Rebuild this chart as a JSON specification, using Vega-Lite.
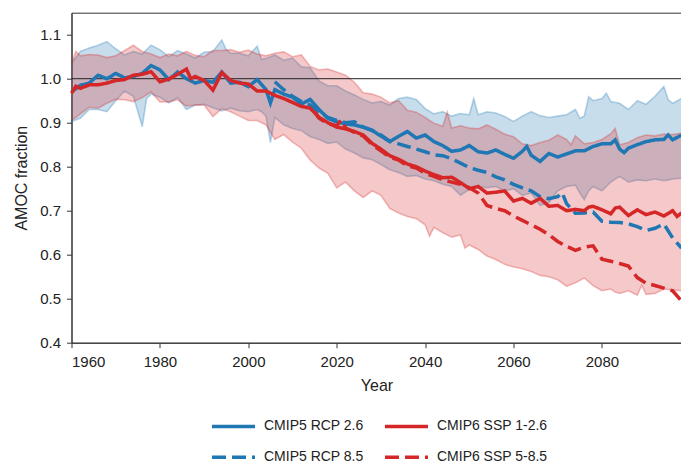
{
  "$schema": "https://vega.github.io/schema/vega-lite/v6.json",
  "width": 610,
  "height": 330,
  "autosize": {"type": "none"},
  "padding": {"left": 71.5, "top": 12.7, "right": 0, "bottom": 122},
  "config": {
    "font": "Liberation Sans",
    "view": {"stroke": "#333", "strokeWidth": 1},
    "axis": {
      "grid": false,
      "domainColor": "#333",
      "tickColor": "#333",
      "tickSize": 5,
      "labelFontSize": 15,
      "labelColor": "#222",
      "titleFontSize": 16,
      "titleFontWeight": "normal",
      "titleColor": "#222"
    },
    "legend": {
      "orient": "none",
      "legendX": 138.5,
      "legendY": 390,
      "columns": 2,
      "padding": 0,
      "symbolType": "stroke",
      "symbolSize": 1849,
      "symbolStrokeWidth": 3.5,
      "labelFontSize": 14,
      "labelColor": "#222",
      "labelOffset": 7,
      "rowPadding": -17,
      "columnPadding": 14,
      "title": null
    }
  },
  "datasets": {
    "blue": [
      {"year":1960,"lo":0.903,"hi":1.035},{"year":1962,"lo":0.910,"hi":1.062},{"year":1964,"lo":0.930,"hi":1.070},{"year":1966,"lo":0.930,"hi":1.076},{"year":1968,"lo":0.925,"hi":1.084},{"year":1970,"lo":0.950,"hi":1.068},{"year":1972,"lo":0.972,"hi":1.054},{"year":1974,"lo":0.960,"hi":1.062},{"year":1976,"lo":0.891,"hi":1.056},{"year":1977,"lo":0.955,"hi":1.066},{"year":1978,"lo":0.965,"hi":1.076},{"year":1980,"lo":0.958,"hi":1.066},{"year":1982,"lo":0.945,"hi":1.050},{"year":1984,"lo":0.957,"hi":1.064},{"year":1986,"lo":0.930,"hi":1.056},{"year":1988,"lo":0.940,"hi":1.047},{"year":1990,"lo":0.942,"hi":1.060},{"year":1992,"lo":0.934,"hi":1.062},{"year":1994,"lo":0.927,"hi":1.088},{"year":1995,"lo":0.930,"hi":1.066},{"year":1996,"lo":0.933,"hi":1.058},{"year":1998,"lo":0.927,"hi":1.058},{"year":2000,"lo":0.925,"hi":1.052},{"year":2002,"lo":0.930,"hi":1.074},{"year":2003,"lo":0.925,"hi":1.044},{"year":2004,"lo":0.915,"hi":1.046},{"year":2005,"lo":0.855,"hi":1.050},{"year":2006,"lo":0.912,"hi":1.054},{"year":2008,"lo":0.895,"hi":1.042},{"year":2010,"lo":0.887,"hi":1.047},{"year":2012,"lo":0.882,"hi":1.027},{"year":2014,"lo":0.868,"hi":1.025},{"year":2016,"lo":0.862,"hi":0.995},{"year":2018,"lo":0.853,"hi":0.984},{"year":2020,"lo":0.856,"hi":0.984},{"year":2022,"lo":0.840,"hi":0.972},{"year":2024,"lo":0.831,"hi":0.963},{"year":2026,"lo":0.820,"hi":0.953},{"year":2028,"lo":0.816,"hi":0.945},{"year":2030,"lo":0.805,"hi":0.948},{"year":2032,"lo":0.793,"hi":0.940},{"year":2034,"lo":0.787,"hi":0.955},{"year":2036,"lo":0.778,"hi":0.958},{"year":2038,"lo":0.780,"hi":0.953},{"year":2040,"lo":0.772,"hi":0.932},{"year":2042,"lo":0.768,"hi":0.920},{"year":2044,"lo":0.760,"hi":0.925},{"year":2046,"lo":0.755,"hi":0.915},{"year":2048,"lo":0.735,"hi":0.921},{"year":2050,"lo":0.748,"hi":0.918},{"year":2051,"lo":0.752,"hi":0.955},{"year":2052,"lo":0.755,"hi":0.918},{"year":2054,"lo":0.752,"hi":0.925},{"year":2056,"lo":0.755,"hi":0.922},{"year":2058,"lo":0.745,"hi":0.914},{"year":2060,"lo":0.750,"hi":0.903},{"year":2062,"lo":0.735,"hi":0.915},{"year":2064,"lo":0.740,"hi":0.925},{"year":2066,"lo":0.712,"hi":0.916},{"year":2068,"lo":0.718,"hi":0.912},{"year":2070,"lo":0.745,"hi":0.915},{"year":2072,"lo":0.755,"hi":0.918},{"year":2074,"lo":0.758,"hi":0.930},{"year":2075,"lo":0.740,"hi":0.910},{"year":2076,"lo":0.725,"hi":0.915},{"year":2077,"lo":0.745,"hi":0.959},{"year":2078,"lo":0.755,"hi":0.950},{"year":2080,"lo":0.745,"hi":0.955},{"year":2081,"lo":0.755,"hi":0.967},{"year":2082,"lo":0.765,"hi":0.948},{"year":2084,"lo":0.778,"hi":0.944},{"year":2086,"lo":0.765,"hi":0.930},{"year":2088,"lo":0.770,"hi":0.950},{"year":2090,"lo":0.768,"hi":0.942},{"year":2092,"lo":0.772,"hi":0.960},{"year":2094,"lo":0.768,"hi":0.982},{"year":2095,"lo":0.770,"hi":0.952},{"year":2096,"lo":0.772,"hi":0.944},{"year":2098,"lo":0.774,"hi":0.955}
    ],
    "red": [
      {"year":1960,"lo":0.906,"hi":1.035},{"year":1961,"lo":0.912,"hi":1.062},{"year":1962,"lo":0.920,"hi":1.052},{"year":1964,"lo":0.935,"hi":1.055},{"year":1966,"lo":0.933,"hi":1.054},{"year":1968,"lo":0.944,"hi":1.048},{"year":1970,"lo":0.953,"hi":1.052},{"year":1972,"lo":0.952,"hi":1.064},{"year":1974,"lo":0.948,"hi":1.076},{"year":1976,"lo":0.957,"hi":1.062},{"year":1978,"lo":0.970,"hi":1.056},{"year":1980,"lo":0.947,"hi":1.048},{"year":1982,"lo":0.947,"hi":1.056},{"year":1984,"lo":0.952,"hi":1.052},{"year":1986,"lo":0.938,"hi":1.062},{"year":1988,"lo":0.940,"hi":1.053},{"year":1990,"lo":0.940,"hi":1.050},{"year":1992,"lo":0.914,"hi":1.064},{"year":1994,"lo":0.932,"hi":1.064},{"year":1996,"lo":0.925,"hi":1.066},{"year":1998,"lo":0.915,"hi":1.060},{"year":2000,"lo":0.905,"hi":1.065},{"year":2002,"lo":0.905,"hi":1.056},{"year":2004,"lo":0.895,"hi":1.052},{"year":2006,"lo":0.862,"hi":1.058},{"year":2008,"lo":0.873,"hi":1.061},{"year":2010,"lo":0.856,"hi":1.050},{"year":2012,"lo":0.842,"hi":1.054},{"year":2014,"lo":0.815,"hi":1.028},{"year":2016,"lo":0.797,"hi":1.020},{"year":2018,"lo":0.785,"hi":1.022},{"year":2020,"lo":0.752,"hi":1.015},{"year":2022,"lo":0.765,"hi":1.008},{"year":2024,"lo":0.745,"hi":0.992},{"year":2026,"lo":0.730,"hi":0.968},{"year":2028,"lo":0.745,"hi":0.965},{"year":2030,"lo":0.735,"hi":0.958},{"year":2032,"lo":0.705,"hi":0.945},{"year":2034,"lo":0.695,"hi":0.950},{"year":2036,"lo":0.687,"hi":0.928},{"year":2038,"lo":0.682,"hi":0.924},{"year":2040,"lo":0.668,"hi":0.912},{"year":2041,"lo":0.642,"hi":0.905},{"year":2042,"lo":0.662,"hi":0.899},{"year":2044,"lo":0.650,"hi":0.892},{"year":2045,"lo":0.645,"hi":0.924},{"year":2046,"lo":0.640,"hi":0.888},{"year":2048,"lo":0.645,"hi":0.893},{"year":2049,"lo":0.615,"hi":0.890},{"year":2050,"lo":0.622,"hi":0.888},{"year":2052,"lo":0.612,"hi":0.886},{"year":2054,"lo":0.597,"hi":0.895},{"year":2056,"lo":0.589,"hi":0.885},{"year":2058,"lo":0.578,"hi":0.874},{"year":2060,"lo":0.572,"hi":0.868},{"year":2062,"lo":0.568,"hi":0.852},{"year":2064,"lo":0.562,"hi":0.848},{"year":2066,"lo":0.553,"hi":0.855},{"year":2068,"lo":0.550,"hi":0.860},{"year":2070,"lo":0.543,"hi":0.872},{"year":2072,"lo":0.528,"hi":0.862},{"year":2073,"lo":0.532,"hi":0.850},{"year":2074,"lo":0.536,"hi":0.870},{"year":2076,"lo":0.547,"hi":0.852},{"year":2078,"lo":0.530,"hi":0.855},{"year":2080,"lo":0.518,"hi":0.862},{"year":2082,"lo":0.522,"hi":0.875},{"year":2083,"lo":0.515,"hi":0.887},{"year":2084,"lo":0.512,"hi":0.850},{"year":2086,"lo":0.518,"hi":0.855},{"year":2088,"lo":0.508,"hi":0.866},{"year":2089,"lo":0.530,"hi":0.869},{"year":2090,"lo":0.510,"hi":0.872},{"year":2092,"lo":0.512,"hi":0.870},{"year":2094,"lo":0.522,"hi":0.874},{"year":2096,"lo":0.520,"hi":0.873},{"year":2098,"lo":0.518,"hi":0.876}
    ],
    "means": [
      {"s":"CMIP5 RCP 2.6","year":1960,"v":0.970},{"s":"CMIP5 RCP 2.6","year":1962,"v":0.985},{"s":"CMIP5 RCP 2.6","year":1964,"v":0.990},{"s":"CMIP5 RCP 2.6","year":1966,"v":1.008},{"s":"CMIP5 RCP 2.6","year":1968,"v":1.000},{"s":"CMIP5 RCP 2.6","year":1970,"v":1.012},{"s":"CMIP5 RCP 2.6","year":1972,"v":1.002},{"s":"CMIP5 RCP 2.6","year":1974,"v":1.005},{"s":"CMIP5 RCP 2.6","year":1976,"v":1.012},{"s":"CMIP5 RCP 2.6","year":1978,"v":1.030},{"s":"CMIP5 RCP 2.6","year":1980,"v":1.020},{"s":"CMIP5 RCP 2.6","year":1982,"v":0.998},{"s":"CMIP5 RCP 2.6","year":1984,"v":1.015},{"s":"CMIP5 RCP 2.6","year":1986,"v":1.000},{"s":"CMIP5 RCP 2.6","year":1988,"v":0.990},{"s":"CMIP5 RCP 2.6","year":1990,"v":0.996},{"s":"CMIP5 RCP 2.6","year":1992,"v":0.992},{"s":"CMIP5 RCP 2.6","year":1994,"v":1.015},{"s":"CMIP5 RCP 2.6","year":1996,"v":0.990},{"s":"CMIP5 RCP 2.6","year":1998,"v":0.992},{"s":"CMIP5 RCP 2.6","year":2000,"v":0.982},{"s":"CMIP5 RCP 2.6","year":2002,"v":0.998},{"s":"CMIP5 RCP 2.6","year":2004,"v":0.975},{"s":"CMIP5 RCP 2.6","year":2005,"v":0.945},{"s":"CMIP5 RCP 2.6","year":2006,"v":0.975},{"s":"CMIP5 RCP 2.6","year":2008,"v":0.965},{"s":"CMIP5 RCP 2.6","year":2010,"v":0.958},{"s":"CMIP5 RCP 2.6","year":2012,"v":0.942},{"s":"CMIP5 RCP 2.6","year":2014,"v":0.953},{"s":"CMIP5 RCP 2.6","year":2016,"v":0.930},{"s":"CMIP5 RCP 2.6","year":2018,"v":0.910},{"s":"CMIP5 RCP 2.6","year":2020,"v":0.902},{"s":"CMIP5 RCP 2.6","year":2022,"v":0.897},{"s":"CMIP5 RCP 2.6","year":2024,"v":0.895},{"s":"CMIP5 RCP 2.6","year":2026,"v":0.890},{"s":"CMIP5 RCP 2.6","year":2028,"v":0.882},{"s":"CMIP5 RCP 2.6","year":2030,"v":0.870},{"s":"CMIP5 RCP 2.6","year":2032,"v":0.857},{"s":"CMIP5 RCP 2.6","year":2034,"v":0.869},{"s":"CMIP5 RCP 2.6","year":2036,"v":0.880},{"s":"CMIP5 RCP 2.6","year":2038,"v":0.865},{"s":"CMIP5 RCP 2.6","year":2040,"v":0.872},{"s":"CMIP5 RCP 2.6","year":2042,"v":0.857},{"s":"CMIP5 RCP 2.6","year":2044,"v":0.848},{"s":"CMIP5 RCP 2.6","year":2046,"v":0.835},{"s":"CMIP5 RCP 2.6","year":2048,"v":0.838},{"s":"CMIP5 RCP 2.6","year":2050,"v":0.848},{"s":"CMIP5 RCP 2.6","year":2052,"v":0.834},{"s":"CMIP5 RCP 2.6","year":2054,"v":0.831},{"s":"CMIP5 RCP 2.6","year":2056,"v":0.838},{"s":"CMIP5 RCP 2.6","year":2058,"v":0.828},{"s":"CMIP5 RCP 2.6","year":2060,"v":0.819},{"s":"CMIP5 RCP 2.6","year":2062,"v":0.835},{"s":"CMIP5 RCP 2.6","year":2063,"v":0.846},{"s":"CMIP5 RCP 2.6","year":2064,"v":0.826},{"s":"CMIP5 RCP 2.6","year":2066,"v":0.812},{"s":"CMIP5 RCP 2.6","year":2068,"v":0.830},{"s":"CMIP5 RCP 2.6","year":2070,"v":0.822},{"s":"CMIP5 RCP 2.6","year":2072,"v":0.829},{"s":"CMIP5 RCP 2.6","year":2074,"v":0.836},{"s":"CMIP5 RCP 2.6","year":2076,"v":0.836},{"s":"CMIP5 RCP 2.6","year":2078,"v":0.846},{"s":"CMIP5 RCP 2.6","year":2080,"v":0.852},{"s":"CMIP5 RCP 2.6","year":2082,"v":0.852},{"s":"CMIP5 RCP 2.6","year":2083,"v":0.861},{"s":"CMIP5 RCP 2.6","year":2084,"v":0.840},{"s":"CMIP5 RCP 2.6","year":2085,"v":0.832},{"s":"CMIP5 RCP 2.6","year":2086,"v":0.842},{"s":"CMIP5 RCP 2.6","year":2088,"v":0.850},{"s":"CMIP5 RCP 2.6","year":2090,"v":0.857},{"s":"CMIP5 RCP 2.6","year":2092,"v":0.861},{"s":"CMIP5 RCP 2.6","year":2094,"v":0.862},{"s":"CMIP5 RCP 2.6","year":2095,"v":0.872},{"s":"CMIP5 RCP 2.6","year":2096,"v":0.861},{"s":"CMIP5 RCP 2.6","year":2098,"v":0.872},
      {"s":"CMIP5 RCP 8.5","year":2006,"v":0.993},{"s":"CMIP5 RCP 8.5","year":2008,"v":0.975},{"s":"CMIP5 RCP 8.5","year":2010,"v":0.960},{"s":"CMIP5 RCP 8.5","year":2012,"v":0.948},{"s":"CMIP5 RCP 8.5","year":2014,"v":0.940},{"s":"CMIP5 RCP 8.5","year":2016,"v":0.925},{"s":"CMIP5 RCP 8.5","year":2018,"v":0.912},{"s":"CMIP5 RCP 8.5","year":2020,"v":0.905},{"s":"CMIP5 RCP 8.5","year":2022,"v":0.900},{"s":"CMIP5 RCP 8.5","year":2024,"v":0.902},{"s":"CMIP5 RCP 8.5","year":2026,"v":0.890},{"s":"CMIP5 RCP 8.5","year":2028,"v":0.883},{"s":"CMIP5 RCP 8.5","year":2030,"v":0.872},{"s":"CMIP5 RCP 8.5","year":2032,"v":0.858},{"s":"CMIP5 RCP 8.5","year":2034,"v":0.852},{"s":"CMIP5 RCP 8.5","year":2036,"v":0.846},{"s":"CMIP5 RCP 8.5","year":2038,"v":0.840},{"s":"CMIP5 RCP 8.5","year":2040,"v":0.834},{"s":"CMIP5 RCP 8.5","year":2042,"v":0.827},{"s":"CMIP5 RCP 8.5","year":2044,"v":0.825},{"s":"CMIP5 RCP 8.5","year":2046,"v":0.818},{"s":"CMIP5 RCP 8.5","year":2048,"v":0.808},{"s":"CMIP5 RCP 8.5","year":2050,"v":0.798},{"s":"CMIP5 RCP 8.5","year":2052,"v":0.792},{"s":"CMIP5 RCP 8.5","year":2054,"v":0.787},{"s":"CMIP5 RCP 8.5","year":2056,"v":0.777},{"s":"CMIP5 RCP 8.5","year":2058,"v":0.770},{"s":"CMIP5 RCP 8.5","year":2060,"v":0.760},{"s":"CMIP5 RCP 8.5","year":2062,"v":0.752},{"s":"CMIP5 RCP 8.5","year":2064,"v":0.745},{"s":"CMIP5 RCP 8.5","year":2066,"v":0.732},{"s":"CMIP5 RCP 8.5","year":2068,"v":0.727},{"s":"CMIP5 RCP 8.5","year":2070,"v":0.732},{"s":"CMIP5 RCP 8.5","year":2071,"v":0.741},{"s":"CMIP5 RCP 8.5","year":2072,"v":0.716},{"s":"CMIP5 RCP 8.5","year":2074,"v":0.694},{"s":"CMIP5 RCP 8.5","year":2076,"v":0.695},{"s":"CMIP5 RCP 8.5","year":2078,"v":0.697},{"s":"CMIP5 RCP 8.5","year":2080,"v":0.676},{"s":"CMIP5 RCP 8.5","year":2082,"v":0.674},{"s":"CMIP5 RCP 8.5","year":2084,"v":0.673},{"s":"CMIP5 RCP 8.5","year":2086,"v":0.670},{"s":"CMIP5 RCP 8.5","year":2088,"v":0.664},{"s":"CMIP5 RCP 8.5","year":2090,"v":0.655},{"s":"CMIP5 RCP 8.5","year":2092,"v":0.660},{"s":"CMIP5 RCP 8.5","year":2094,"v":0.670},{"s":"CMIP5 RCP 8.5","year":2096,"v":0.638},{"s":"CMIP5 RCP 8.5","year":2098,"v":0.615},
      {"s":"CMIP6 SSP 1-2.6","year":1960,"v":0.967},{"s":"CMIP6 SSP 1-2.6","year":1961,"v":0.983},{"s":"CMIP6 SSP 1-2.6","year":1962,"v":0.978},{"s":"CMIP6 SSP 1-2.6","year":1964,"v":0.986},{"s":"CMIP6 SSP 1-2.6","year":1966,"v":0.986},{"s":"CMIP6 SSP 1-2.6","year":1968,"v":0.990},{"s":"CMIP6 SSP 1-2.6","year":1970,"v":0.996},{"s":"CMIP6 SSP 1-2.6","year":1972,"v":0.998},{"s":"CMIP6 SSP 1-2.6","year":1974,"v":1.008},{"s":"CMIP6 SSP 1-2.6","year":1976,"v":1.010},{"s":"CMIP6 SSP 1-2.6","year":1978,"v":1.016},{"s":"CMIP6 SSP 1-2.6","year":1980,"v":0.993},{"s":"CMIP6 SSP 1-2.6","year":1982,"v":0.999},{"s":"CMIP6 SSP 1-2.6","year":1984,"v":1.010},{"s":"CMIP6 SSP 1-2.6","year":1986,"v":1.022},{"s":"CMIP6 SSP 1-2.6","year":1987,"v":1.000},{"s":"CMIP6 SSP 1-2.6","year":1988,"v":1.005},{"s":"CMIP6 SSP 1-2.6","year":1990,"v":0.996},{"s":"CMIP6 SSP 1-2.6","year":1992,"v":0.974},{"s":"CMIP6 SSP 1-2.6","year":1994,"v":1.014},{"s":"CMIP6 SSP 1-2.6","year":1996,"v":0.996},{"s":"CMIP6 SSP 1-2.6","year":1998,"v":0.990},{"s":"CMIP6 SSP 1-2.6","year":2000,"v":0.988},{"s":"CMIP6 SSP 1-2.6","year":2002,"v":0.972},{"s":"CMIP6 SSP 1-2.6","year":2004,"v":0.972},{"s":"CMIP6 SSP 1-2.6","year":2006,"v":0.962},{"s":"CMIP6 SSP 1-2.6","year":2008,"v":0.955},{"s":"CMIP6 SSP 1-2.6","year":2010,"v":0.946},{"s":"CMIP6 SSP 1-2.6","year":2012,"v":0.937},{"s":"CMIP6 SSP 1-2.6","year":2014,"v":0.933},{"s":"CMIP6 SSP 1-2.6","year":2016,"v":0.912},{"s":"CMIP6 SSP 1-2.6","year":2018,"v":0.900},{"s":"CMIP6 SSP 1-2.6","year":2020,"v":0.890},{"s":"CMIP6 SSP 1-2.6","year":2022,"v":0.886},{"s":"CMIP6 SSP 1-2.6","year":2024,"v":0.880},{"s":"CMIP6 SSP 1-2.6","year":2026,"v":0.872},{"s":"CMIP6 SSP 1-2.6","year":2028,"v":0.853},{"s":"CMIP6 SSP 1-2.6","year":2030,"v":0.840},{"s":"CMIP6 SSP 1-2.6","year":2032,"v":0.825},{"s":"CMIP6 SSP 1-2.6","year":2034,"v":0.817},{"s":"CMIP6 SSP 1-2.6","year":2036,"v":0.806},{"s":"CMIP6 SSP 1-2.6","year":2038,"v":0.800},{"s":"CMIP6 SSP 1-2.6","year":2040,"v":0.790},{"s":"CMIP6 SSP 1-2.6","year":2042,"v":0.782},{"s":"CMIP6 SSP 1-2.6","year":2044,"v":0.775},{"s":"CMIP6 SSP 1-2.6","year":2046,"v":0.776},{"s":"CMIP6 SSP 1-2.6","year":2048,"v":0.764},{"s":"CMIP6 SSP 1-2.6","year":2050,"v":0.750},{"s":"CMIP6 SSP 1-2.6","year":2052,"v":0.755},{"s":"CMIP6 SSP 1-2.6","year":2054,"v":0.740},{"s":"CMIP6 SSP 1-2.6","year":2056,"v":0.742},{"s":"CMIP6 SSP 1-2.6","year":2058,"v":0.745},{"s":"CMIP6 SSP 1-2.6","year":2060,"v":0.722},{"s":"CMIP6 SSP 1-2.6","year":2062,"v":0.728},{"s":"CMIP6 SSP 1-2.6","year":2064,"v":0.717},{"s":"CMIP6 SSP 1-2.6","year":2066,"v":0.728},{"s":"CMIP6 SSP 1-2.6","year":2068,"v":0.710},{"s":"CMIP6 SSP 1-2.6","year":2070,"v":0.712},{"s":"CMIP6 SSP 1-2.6","year":2072,"v":0.700},{"s":"CMIP6 SSP 1-2.6","year":2074,"v":0.703},{"s":"CMIP6 SSP 1-2.6","year":2076,"v":0.700},{"s":"CMIP6 SSP 1-2.6","year":2077,"v":0.708},{"s":"CMIP6 SSP 1-2.6","year":2078,"v":0.710},{"s":"CMIP6 SSP 1-2.6","year":2080,"v":0.702},{"s":"CMIP6 SSP 1-2.6","year":2082,"v":0.693},{"s":"CMIP6 SSP 1-2.6","year":2083,"v":0.706},{"s":"CMIP6 SSP 1-2.6","year":2084,"v":0.708},{"s":"CMIP6 SSP 1-2.6","year":2086,"v":0.689},{"s":"CMIP6 SSP 1-2.6","year":2088,"v":0.702},{"s":"CMIP6 SSP 1-2.6","year":2090,"v":0.691},{"s":"CMIP6 SSP 1-2.6","year":2092,"v":0.697},{"s":"CMIP6 SSP 1-2.6","year":2094,"v":0.688},{"s":"CMIP6 SSP 1-2.6","year":2096,"v":0.700},{"s":"CMIP6 SSP 1-2.6","year":2097,"v":0.687},{"s":"CMIP6 SSP 1-2.6","year":2098,"v":0.695},
      {"s":"CMIP6 SSP 5-8.5","year":2015,"v":0.925},{"s":"CMIP6 SSP 5-8.5","year":2016,"v":0.910},{"s":"CMIP6 SSP 5-8.5","year":2018,"v":0.898},{"s":"CMIP6 SSP 5-8.5","year":2020,"v":0.893},{"s":"CMIP6 SSP 5-8.5","year":2021,"v":0.906},{"s":"CMIP6 SSP 5-8.5","year":2022,"v":0.888},{"s":"CMIP6 SSP 5-8.5","year":2024,"v":0.878},{"s":"CMIP6 SSP 5-8.5","year":2026,"v":0.870},{"s":"CMIP6 SSP 5-8.5","year":2028,"v":0.850},{"s":"CMIP6 SSP 5-8.5","year":2030,"v":0.836},{"s":"CMIP6 SSP 5-8.5","year":2032,"v":0.822},{"s":"CMIP6 SSP 5-8.5","year":2034,"v":0.815},{"s":"CMIP6 SSP 5-8.5","year":2036,"v":0.802},{"s":"CMIP6 SSP 5-8.5","year":2038,"v":0.797},{"s":"CMIP6 SSP 5-8.5","year":2040,"v":0.785},{"s":"CMIP6 SSP 5-8.5","year":2042,"v":0.778},{"s":"CMIP6 SSP 5-8.5","year":2044,"v":0.770},{"s":"CMIP6 SSP 5-8.5","year":2046,"v":0.765},{"s":"CMIP6 SSP 5-8.5","year":2048,"v":0.760},{"s":"CMIP6 SSP 5-8.5","year":2050,"v":0.752},{"s":"CMIP6 SSP 5-8.5","year":2052,"v":0.740},{"s":"CMIP6 SSP 5-8.5","year":2054,"v":0.712},{"s":"CMIP6 SSP 5-8.5","year":2056,"v":0.705},{"s":"CMIP6 SSP 5-8.5","year":2058,"v":0.700},{"s":"CMIP6 SSP 5-8.5","year":2060,"v":0.688},{"s":"CMIP6 SSP 5-8.5","year":2062,"v":0.678},{"s":"CMIP6 SSP 5-8.5","year":2064,"v":0.668},{"s":"CMIP6 SSP 5-8.5","year":2066,"v":0.658},{"s":"CMIP6 SSP 5-8.5","year":2068,"v":0.645},{"s":"CMIP6 SSP 5-8.5","year":2070,"v":0.630},{"s":"CMIP6 SSP 5-8.5","year":2072,"v":0.619},{"s":"CMIP6 SSP 5-8.5","year":2074,"v":0.610},{"s":"CMIP6 SSP 5-8.5","year":2076,"v":0.617},{"s":"CMIP6 SSP 5-8.5","year":2078,"v":0.620},{"s":"CMIP6 SSP 5-8.5","year":2080,"v":0.590},{"s":"CMIP6 SSP 5-8.5","year":2082,"v":0.585},{"s":"CMIP6 SSP 5-8.5","year":2084,"v":0.580},{"s":"CMIP6 SSP 5-8.5","year":2086,"v":0.574},{"s":"CMIP6 SSP 5-8.5","year":2088,"v":0.548},{"s":"CMIP6 SSP 5-8.5","year":2090,"v":0.535},{"s":"CMIP6 SSP 5-8.5","year":2092,"v":0.530},{"s":"CMIP6 SSP 5-8.5","year":2094,"v":0.524},{"s":"CMIP6 SSP 5-8.5","year":2096,"v":0.518},{"s":"CMIP6 SSP 5-8.5","year":2098,"v":0.495}
    ]
  },
  "layer": [
    {
      "data": {"name": "blue"},
      "mark": {"type": "area", "color": "#1f77b4", "opacity": 0.25},
      "encoding": {
        "x": {"field": "year", "type": "quantitative", "scale": {"domain": [1960, 2098], "nice": false, "zero": false}, "title": "Year", "axis": {"values": [1960, 1980, 2000, 2020, 2040, 2060, 2080], "format": "d", "labelPadding": 7, "titlePadding": 8}},
        "y": {"field": "hi", "type": "quantitative", "scale": {"domain": [0.4, 1.15], "nice": false, "zero": false}, "title": "AMOC fraction", "axis": {"values": [0.4, 0.5, 0.6, 0.7, 0.8, 0.9, 1.0, 1.1], "format": ".1f", "labelPadding": 6, "titlePadding": 10}},
        "y2": {"field": "lo"}
      }
    },
    {
      "data": {"name": "blue"},
      "mark": {"type": "line", "color": "#1f77b4", "strokeOpacity": 0.3, "strokeWidth": 1.6},
      "encoding": {
        "x": {"field": "year", "type": "quantitative", "title": "Year"},
        "y": {"field": "hi", "type": "quantitative", "title": "AMOC fraction"}
      }
    },
    {
      "data": {"name": "blue"},
      "mark": {"type": "line", "color": "#1f77b4", "strokeOpacity": 0.3, "strokeWidth": 1.6},
      "encoding": {
        "x": {"field": "year", "type": "quantitative", "title": "Year"},
        "y": {"field": "lo", "type": "quantitative", "title": "AMOC fraction"}
      }
    },
    {
      "data": {"name": "red"},
      "mark": {"type": "area", "color": "#d62728", "opacity": 0.25},
      "encoding": {
        "x": {"field": "year", "type": "quantitative", "title": "Year"},
        "y": {"field": "hi", "type": "quantitative", "title": "AMOC fraction"},
        "y2": {"field": "lo"}
      }
    },
    {
      "data": {"name": "red"},
      "mark": {"type": "line", "color": "#d62728", "strokeOpacity": 0.3, "strokeWidth": 1.6},
      "encoding": {
        "x": {"field": "year", "type": "quantitative", "title": "Year"},
        "y": {"field": "hi", "type": "quantitative", "title": "AMOC fraction"}
      }
    },
    {
      "data": {"name": "red"},
      "mark": {"type": "line", "color": "#d62728", "strokeOpacity": 0.3, "strokeWidth": 1.6},
      "encoding": {
        "x": {"field": "year", "type": "quantitative", "title": "Year"},
        "y": {"field": "lo", "type": "quantitative", "title": "AMOC fraction"}
      }
    },
    {
      "data": {"values": [{}]},
      "mark": {"type": "rule", "color": "#222", "strokeWidth": 1},
      "encoding": {
        "y": {"datum": 1.0, "type": "quantitative", "title": "AMOC fraction"}
      }
    },
    {
      "data": {"name": "means"},
      "mark": {"type": "line", "strokeWidth": 3.5},
      "encoding": {
        "x": {"field": "year", "type": "quantitative", "title": "Year"},
        "y": {"field": "v", "type": "quantitative", "title": "AMOC fraction"},
        "color": {"field": "s", "type": "nominal", "sort": null, "scale": {"domain": ["CMIP5 RCP 2.6", "CMIP5 RCP 8.5", "CMIP6 SSP 1-2.6", "CMIP6 SSP 5-8.5"], "range": ["#1f77b4", "#1f77b4", "#d62728", "#d62728"]}, "legend": {"values": ["CMIP5 RCP 2.6", "CMIP5 RCP 8.5", "CMIP6 SSP 1-2.6", "CMIP6 SSP 5-8.5"]}},
        "strokeDash": {"field": "s", "type": "nominal", "sort": null, "scale": {"domain": ["CMIP5 RCP 2.6", "CMIP5 RCP 8.5", "CMIP6 SSP 1-2.6", "CMIP6 SSP 5-8.5"], "range": [[1, 0], [14, 6], [1, 0], [14, 6]]}, "legend": {"values": ["CMIP5 RCP 2.6", "CMIP5 RCP 8.5", "CMIP6 SSP 1-2.6", "CMIP6 SSP 5-8.5"]}}
      }
    }
  ]
}
